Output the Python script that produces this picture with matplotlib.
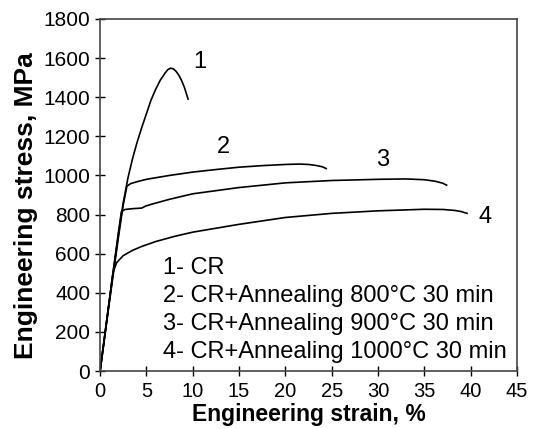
import matplotlib.pyplot as plt

plt.rcParams['font.family'] = ['Liberation Sans', 'DejaVu Sans']

# 1- CR
strain1 = [0, 0.5, 1.0, 1.5, 2.0, 2.5, 3.0, 3.5, 4.0, 4.5, 5.0, 5.5, 6.0, 6.5, 7.0, 7.3, 7.6, 7.9, 8.2, 8.5, 8.8, 9.1, 9.5]
stress1 = [0, 180, 360, 535, 705, 860, 985, 1085, 1170, 1245, 1315, 1385, 1440, 1487, 1522, 1540, 1548, 1545, 1532, 1512, 1485, 1450, 1390]

# 2- CR+Annealing 800C
strain2 = [0, 0.5, 1.0, 1.5, 2.0, 2.5, 2.9, 3.3, 4, 5, 7.5, 10, 12.5, 15, 17.5, 20, 21.5, 22.5, 23.3, 24, 24.4]
stress2 = [0, 175, 350, 520, 690, 850, 945, 958, 968, 980, 1000, 1017, 1030, 1042, 1050, 1056, 1058, 1056, 1051, 1044, 1035]

# 3- CR+Annealing 900C
strain3 = [0, 0.5, 1.0, 1.5, 2.0, 2.3, 2.7, 3.5, 4.5, 4.9, 5.5, 7.5, 10, 15, 20, 25, 30, 33, 35, 36.2, 37.0, 37.4]
stress3 = [0, 180, 360, 540, 715, 815, 826, 830, 833, 843, 852, 878, 906, 938, 962, 974, 980, 982, 978, 970, 960, 950]

# 4- CR+Annealing 1000C
strain4 = [0, 0.5, 1.0, 1.4, 1.8, 2.5, 3.5, 4.5, 6, 8, 10, 15, 20, 25, 30, 35, 37, 38.3, 39.0, 39.6]
stress4 = [0, 180, 360, 505, 555, 590, 617, 637, 662, 688, 710, 750, 785, 806, 819, 827, 826, 821, 815, 806]

legend_lines = ["1- CR",
                "2- CR+Annealing 800°C 30 min",
                "3- CR+Annealing 900°C 30 min",
                "4- CR+Annealing 1000°C 30 min"]

fig = plt.figure(figsize=(5.38, 4.29), dpi=100)
ax = fig.add_axes([0.186, 0.135, 0.775, 0.821])

for x, y in [(strain1, stress1), (strain2, stress2), (strain3, stress3), (strain4, stress4)]:
    ax.plot(x, y, color='black', lw=1.2)

ax.text(10.8, 1580, "1", fontsize=17, ha='center', va='center')
ax.text(13.3, 1145, "2", fontsize=17, ha='center', va='center')
ax.text(30.5, 1080, "3", fontsize=17, ha='center', va='center')
ax.text(41.5, 790, "4", fontsize=17, ha='center', va='center')

for i, s in enumerate(legend_lines):
    ax.text(6.8, 527 - i * 143, s, fontsize=17, ha='left', va='center')

ax.set_xlim(0, 45)
ax.set_ylim(0, 1800)
ax.set_xticks(range(0, 46, 5))
ax.set_yticks(range(0, 1801, 200))
ax.tick_params(direction='inout', length=7, width=1, labelsize=15, colors='black')
ax.tick_params(axis='x', labelsize=14.5, pad=4)
for sp in ax.spines.values():
    sp.set_color('#444444')
    sp.set_linewidth(1.2)

ax.set_xlabel("Engineering strain, %", fontsize=16.5, fontweight='bold')
ax.xaxis.set_label_coords(0.5, -0.091)
ax.set_ylabel("Engineering stress, MPa", fontsize=19, fontweight='bold')
ax.yaxis.set_label_coords(-0.149, 0.47)

fig.savefig("out.png", dpi=100)
